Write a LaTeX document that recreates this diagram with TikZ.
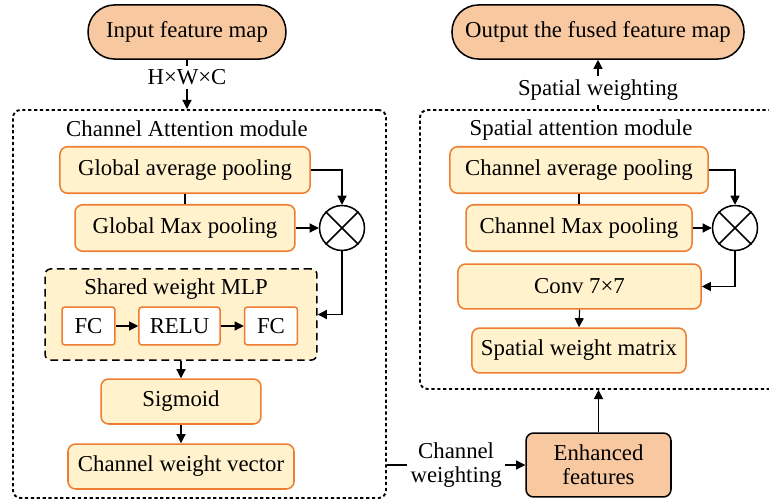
\documentclass[tikz,border=0pt]{standalone}
\usepackage{fontspec}
\setmainfont{Liberation Serif}
\usepackage{xcolor}
\usetikzlibrary{arrows.meta,positioning}

\definecolor{peach}{HTML}{F8C8A0}
\definecolor{paleyellow}{HTML}{FFF2CC}
\definecolor{boxorange}{HTML}{ED7D31}

\begin{document}
\begin{tikzpicture}[x=0.527pt, y=-0.527pt,
  every node/.style={font=\fontsize{12pt}{13.5pt}\selectfont, inner sep=1pt},
  pill/.style={rectangle, draw=black, line width=0.8pt, rounded corners=14pt, fill=peach,
    minimum height=28.5pt},
  procbox/.style={rectangle, draw=boxorange, line width=0.8pt, rounded corners=4pt, fill=paleyellow,
    minimum height=24.5pt},
  fcbox/.style={rectangle, draw=boxorange, line width=0.8pt, rounded corners=1.5pt, fill=white,
    minimum height=20pt},
  mlpbox/.style={rectangle, draw=black, line width=0.8pt, dashed, dash pattern=on 4pt off 2.5pt,
    rounded corners=3pt, fill=paleyellow},
  modbox/.style={rectangle, draw=black, line width=1pt, dash pattern=on 1.7pt off 1.4pt,
    rounded corners=4pt},
  mul/.style={circle, draw=black, line width=0.8pt, minimum size=23.7pt, inner sep=0pt},
  arr/.style={-{Triangle[length=4.8pt, width=4.8pt]}, line width=0.6pt, draw=black}
]
\useasboundingbox (0,0) rectangle (769,502);

% module frames
\node[modbox, minimum width=196.6pt, minimum height=204.5pt] (cam) at (199.5,304) {};
\node[modbox, minimum width=192.4pt, minimum height=147pt] (sam) at (602.5,249.5) {};
\node at (187,129) {Channel Attention module};
\node at (581,130) {Spatial attention module};

% input and output
\node[pill, minimum width=104.3pt] (in) at (187,32) {Input feature map};
\node[pill, minimum width=153.9pt] (out) at (598,32) {Output the fused feature map};

% channel attention branch
\node[procbox, minimum width=131.8pt] (gap) at (185,170) {Global average pooling};
\node[procbox, minimum width=115.9pt] (gmp) at (185,228) {Global Max pooling};
\node[mul] (m1) at (342,228) {};
\draw[line width=0.8pt] (m1.north east) -- (m1.south west) (m1.north west) -- (m1.south east);

\node[mlpbox, minimum width=143.3pt, minimum height=48pt] (mlp) at (181,314.5) {};
\node at (176,289) {Shared weight MLP};
\node[fcbox, minimum width=27.9pt] (fc1) at (88.5,326) {FC};
\node[fcbox, minimum width=42.7pt] (relu) at (179.5,326) {RELU};
\node[fcbox, minimum width=27.9pt] (fc2) at (271,326) {FC};

\node[procbox, minimum width=84.3pt, minimum height=23.7pt] (sig) at (181,401.5) {Sigmoid};
\node[procbox, minimum width=119.1pt, minimum height=23.7pt] (cwv) at (181,466.5) {Channel weight vector};

% spatial attention branch
\node[procbox, minimum width=136pt] (cap) at (579,170) {Channel average pooling};
\node[procbox, minimum width=119.1pt] (cmp) at (579,228) {Channel Max pooling};
\node[mul] (m2) at (735,228) {};
\draw[line width=0.8pt] (m2.north east) -- (m2.south west) (m2.north west) -- (m2.south east);
\node[procbox, minimum width=128.1pt, minimum height=23.7pt] (conv) at (579.5,286.5) {Conv 7×7};
\node[procbox, minimum width=112.8pt, minimum height=23.7pt] (swm) at (579,350.5) {Spatial weight matrix};

\node[rectangle, draw=black, line width=0.8pt, rounded corners=4pt, fill=peach,
  minimum width=76.4pt, minimum height=33.7pt, align=center] (enh) at (598.5,465) {Enhanced\\[-1pt]features};

% connectors
\draw[arr] (in.south) -- node[pos=0.36, fill=white, inner sep=2pt] {H×W×C} (in.south |- cam.north);
\draw[line width=0.6pt] (gap.south) -- (gmp.north);
\draw[arr] (gap.east) -| (m1.north);
\draw[arr] (gmp.east) -- (m1.west);
\draw[arr] (m1.south) |- (mlp.east);
\draw[arr] (fc1) -- (relu);
\draw[arr] (relu) -- (fc2);
\draw[arr] (mlp.south) -- (sig.north);
\draw[arr] (sig.south) -- (cwv.north);

\draw[line width=0.6pt] (cap.south) -- (cmp.north);
\draw[arr] (cap.east) -| (m2.north);
\draw[arr] (cmp.east) -- (m2.west);
\draw[arr] (m2.south) |- (conv.east);
\draw[arr] (conv.south) -- (swm.north);

\draw[arr] (cam.east |- enh.west) -- node[fill=white, align=center, inner sep=2pt] {Channel\\[-1pt]weighting} (enh.west);
\draw[arr] (enh.north) -- (enh.north |- sam.south);
\draw[arr] (sam.north -| out.south) -- node[pos=0.38, fill=white, inner sep=2pt] {Spatial weighting} (out.south);

\end{tikzpicture}
\end{document}
